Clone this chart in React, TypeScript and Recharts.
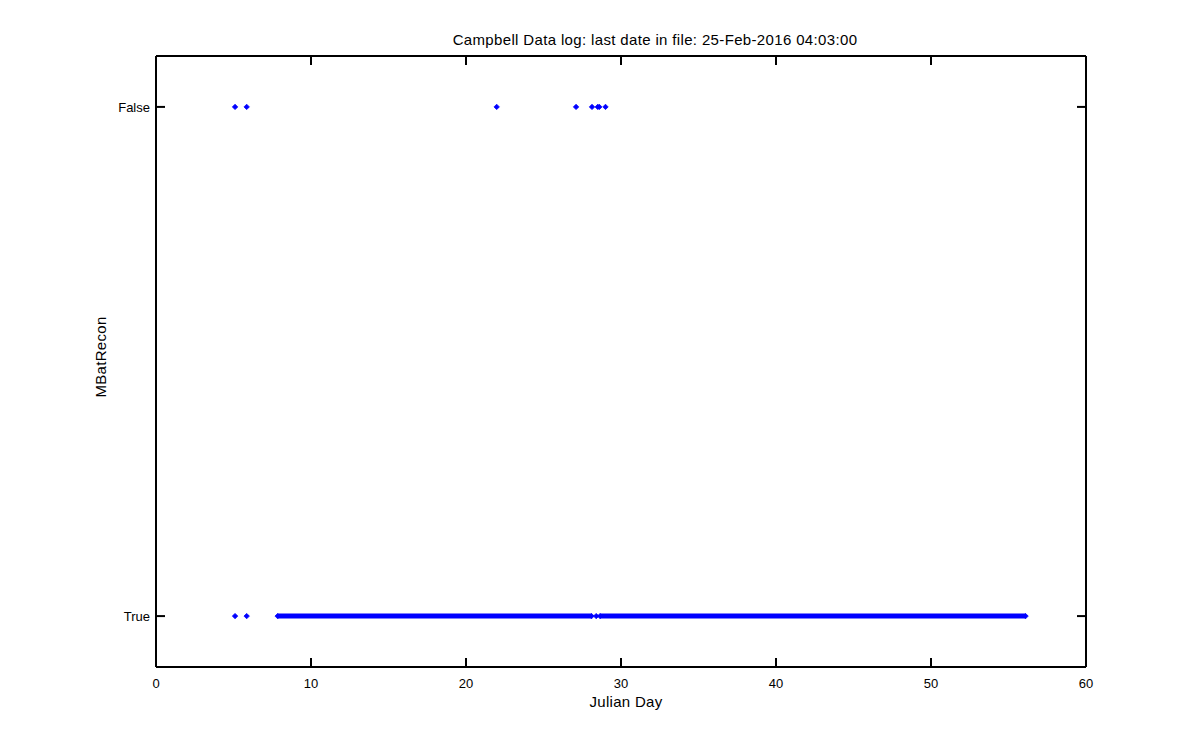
import React from 'react';
import { ScatterChart, Scatter, XAxis, YAxis } from 'recharts';

const chartTitle = 'Campbell Data log: last date in file: 25-Feb-2016 04:03:00';
const xTicks = [0, 10, 20, 30, 40, 50, 60];
const yTicks = [0, 1];
const yTickLabels = ['True', 'False'];

// state values: 0 = True, 1 = False
const falseDays = [5.1, 5.85, 21.98, 27.1, 28.13, 28.5, 28.6, 29.0];
const trueSingleDays = [5.1, 5.85, 28.4];
const trueRunStarts = [7.85, 28.65];
const trueRunEnds = [28.1, 56.1];

const BLUE = '#0000ff';
const FONT = '"Liberation Sans", Arial, Helvetica, sans-serif';
const TICK_LEN = 9;

const falseData = falseDays.map((d) => ({ x: d, y: 1 }));
const trueData = trueSingleDays.map((d) => ({ x: d, y: 0 }));
const runData = trueRunStarts.map((s, i) => [
  { x: s, y: 0 },
  { x: trueRunEnds[i], y: 0 },
]);

const Diamond = (props: any) => {
  const { cx, cy } = props;
  if (cx == null || cy == null) return null;
  const r = 2.7;
  return (
    <path
      d={`M${cx - r},${cy} L${cx},${cy - r} L${cx + r},${cy} L${cx},${cy + r} Z`}
      fill={BLUE}
      stroke={BLUE}
      strokeWidth={0.8}
    />
  );
};

const axisLineStyle = { stroke: '#000', strokeWidth: 2 };

const BottomTick = (props: any) => {
  const { x, y, payload } = props;
  return (
    <g>
      <line x1={x} y1={y} x2={x} y2={y - TICK_LEN} stroke="#000" strokeWidth={2} />
      <text x={x} y={y + 21} textAnchor="middle" fontSize={13} fontFamily={FONT} fill="#000">
        {payload.value}
      </text>
    </g>
  );
};

const TopTick = (props: any) => {
  const { x, y } = props;
  return <line x1={x} y1={y} x2={x} y2={y + TICK_LEN} stroke="#000" strokeWidth={2} />;
};

const LeftTick = (props: any) => {
  const { x, y, payload } = props;
  return (
    <g>
      <line x1={x} y1={y} x2={x + TICK_LEN} y2={y} stroke="#000" strokeWidth={2} />
      <text x={x - 6} y={y + 5} textAnchor="end" fontSize={13} fontFamily={FONT} fill="#000">
        {yTickLabels[payload.value]}
      </text>
    </g>
  );
};

const RightTick = (props: any) => {
  const { x, y } = props;
  return <line x1={x} y1={y} x2={x - TICK_LEN} y2={y} stroke="#000" strokeWidth={2} />;
};

export default function App() {
  return (
    <div style={{ position: 'absolute', left: 0, top: 0, width: 1200, height: 750, background: '#fff' }}>
      <ScatterChart
        width={1200}
        height={750}
        margin={{ top: 55, right: 113, bottom: 43, left: 76 }}
        style={{ position: 'absolute', left: 0, top: 0 }}
      >
        <XAxis
          xAxisId="b"
          type="number"
          dataKey="x"
          domain={[0, 60]}
          ticks={xTicks}
          orientation="bottom"
          height={40}
          tickSize={0}
          tickMargin={0}
          tick={<BottomTick />}
          axisLine={axisLineStyle}
          tickLine={false}
          allowDataOverflow
        />
        <XAxis
          xAxisId="t"
          type="number"
          dataKey="x"
          domain={[0, 60]}
          ticks={xTicks}
          orientation="top"
          height={1}
          tickSize={0}
          tickMargin={0}
          tick={<TopTick />}
          axisLine={axisLineStyle}
          tickLine={false}
          allowDataOverflow
        />
        <YAxis
          yAxisId="l"
          type="number"
          dataKey="y"
          domain={[-0.1, 1.1]}
          ticks={yTicks}
          orientation="left"
          width={80}
          tickSize={0}
          tickMargin={0}
          tick={<LeftTick />}
          axisLine={axisLineStyle}
          tickLine={false}
          allowDataOverflow
        />
        <YAxis
          yAxisId="r"
          type="number"
          dataKey="y"
          domain={[-0.1, 1.1]}
          ticks={yTicks}
          orientation="right"
          width={1}
          tickSize={0}
          tickMargin={0}
          tick={<RightTick />}
          axisLine={axisLineStyle}
          tickLine={false}
          allowDataOverflow
        />
        {runData.map((seg, i) => (
          <Scatter
            key={`run-${i}`}
            xAxisId="b"
            yAxisId="l"
            data={seg}
            line={{ stroke: BLUE, strokeWidth: 5 }}
            shape={<Diamond />}
            isAnimationActive={false}
          />
        ))}
        <Scatter xAxisId="b" yAxisId="l" data={trueData} shape={<Diamond />} isAnimationActive={false} />
        <Scatter xAxisId="b" yAxisId="l" data={falseData} shape={<Diamond />} isAnimationActive={false} />
      </ScatterChart>
      <svg style={{ position: 'absolute', left: 0, top: 0, pointerEvents: 'none' }} width={1200} height={750}>
        <text x={655} y={45} textAnchor="middle" fontSize={15} letterSpacing={0.35} fontFamily={FONT} fill="#000">
          {chartTitle}
        </text>
        <text x={626} y={707} textAnchor="middle" fontSize={15} letterSpacing={0.3} fontFamily={FONT} fill="#000">
          Julian Day
        </text>
        <text
          x={106}
          y={357}
          textAnchor="middle"
          fontSize={15}
          letterSpacing={0.3}
          fontFamily={FONT}
          fill="#000"
          transform="rotate(-90 106 357)"
        >
          MBatRecon
        </text>
      </svg>
    </div>
  );
}
